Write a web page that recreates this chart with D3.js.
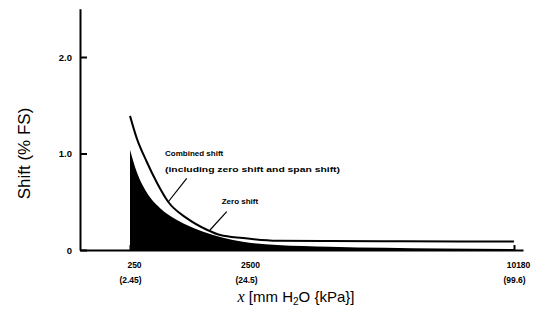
<!DOCTYPE html>
<html>
<head>
<meta charset="utf-8">
<script src="https://cdn.jsdelivr.net/npm/d3@7"></script>
<style>
  body { margin: 0; background: #fff; }
  svg { display: block; }
  text { font-family: "Liberation Sans", Arial, Helvetica, sans-serif; fill: #000; }
  .tick text { font-size: 8.5px; font-weight: bold; }
  .y-axis .tick text { font-size: 9.5px; }
  .note { font-size: 8px; font-weight: bold; }
</style>
</head>
<body>
<div id="chart"></div>
<script>
// x in mm H2O, shift in % FS
const combinedX = [250, 380, 570, 770, 990, 1350, 1740, 2000, 2440, 3390, 4900, 7000, 10180];
const combinedY = [1.39, 1.16, 0.92, 0.70, 0.50, 0.33, 0.21, 0.155, 0.124, 0.096, 0.092, 0.09, 0.088];

const zeroX = [250, 380, 570, 830, 1160, 1670, 2440, 3390, 4900, 8060, 10180];
const zeroY = [1.04, 0.81, 0.60, 0.435, 0.31, 0.19, 0.086, 0.052, 0.034, 0.016, 0.01];

const xTicks = [250, 2500, 10180];
const xTickKpa = ["2.45", "24.5", "99.6"];
const yTicks = [0, 1, 2];

const notes = [
    { text: "Combined shift", x: 929, y: 1.005 },
    { text: "(including zero shift and span shift)", x: 929, y: 0.84, len: 175 },
    { text: "Zero shift", x: 2029, y: 0.508 }
];
const pointers = [
    { x1: 1350, y1: 0.743, x2: 993, y2: 0.50 },
    { x1: 2126, y1: 0.397, x2: 1802, y2: 0.207 }
];

const width = 544, height = 319;

const svg = d3.select("#chart")
    .append("svg")
    .attr("width", width)
    .attr("height", height);

// the drawing is schematic: x axis is stretched piecewise
const xScale = d3.scaleLinear()
    .domain([0, 250, 2500, 10180, 10500])
    .range([80, 130, 246, 514, 523]);

const yScale = d3.scaleLinear()
    .domain([0, 2.5])
    .range([250, 8.75]);

const combined = combinedX.map((x, i) => ({ x: x, y: combinedY[i] }));
const zero = zeroX.map((x, i) => ({ x: x, y: zeroY[i] }));

// zero shift area
svg.append("path")
    .datum(zero)
    .attr("fill", "#000")
    .attr("d", d3.area()
        .x(d => xScale(d.x))
        .y0(yScale(0))
        .y1(d => yScale(d.y))
        .curve(d3.curveMonotoneX));

// combined shift line
svg.append("path")
    .datum(combined)
    .attr("fill", "none")
    .attr("stroke", "#000")
    .attr("stroke-width", 2)
    .attr("d", d3.line()
        .x(d => xScale(d.x))
        .y(d => yScale(d.y))
        .curve(d3.curveMonotoneX));

// axes
const xAxis = svg.append("g")
    .attr("transform", `translate(0,${yScale(0)})`)
    .call(d3.axisBottom(xScale)
        .tickValues(xTicks)
        .tickSizeInner(-5)
        .tickSizeOuter(0)
        .tickPadding(12));

xAxis.selectAll(".tick text")
    .attr("dx", 4)
    .each(function (d, i) {
        const t = d3.select(this);
        t.text(null);
        t.append("tspan").attr("x", 0).text(d);
        t.append("tspan").attr("x", 0).attr("dy", "1.8em").text(`(${xTickKpa[i]})`);
    });

const yAxis = svg.append("g")
    .attr("class", "y-axis")
    .attr("transform", `translate(${xScale(0)},0)`)
    .call(d3.axisLeft(yScale)
        .tickValues(yTicks)
        .tickSizeInner(-7)
        .tickSizeOuter(0)
        .tickPadding(8)
        .tickFormat(d => d === 0 ? "0" : d3.format(".1f")(d)));

svg.selectAll(".domain, .tick line").attr("stroke", "#000").attr("stroke-width", 2);
yAxis.selectAll(".tick text").attr("dy", "0.36em");

// axis titles
svg.append("text")
    .attr("transform", `translate(30,${yScale(1)}) rotate(-90)`)
    .attr("text-anchor", "middle")
    .style("font-size", "17px")
    .text("Shift (% FS)");

const xt = svg.append("text")
    .attr("x", 296)
    .attr("y", 302)
    .attr("text-anchor", "middle")
    .style("font-size", "15px");
xt.append("tspan").style("font-family", "'Liberation Serif', 'DejaVu Serif', serif")
    .style("font-style", "italic").style("font-size", "16px").text("x");
xt.append("tspan").text(" [mm H");
xt.append("tspan").attr("dy", 3).style("font-size", "10px").text("2");
xt.append("tspan").attr("dy", -3).text("O {kPa}]");

// annotations
svg.selectAll(".note")
    .data(notes)
    .enter()
    .append("text")
    .attr("class", "note")
    .attr("x", d => xScale(d.x))
    .attr("y", d => yScale(d.y))
    .attr("dy", "0.35em")
    .attr("textLength", d => d.len || null)
    .attr("lengthAdjust", "spacingAndGlyphs")
    .text(d => d.text);

svg.selectAll(".pointer")
    .data(pointers)
    .enter()
    .append("line")
    .attr("class", "pointer")
    .attr("x1", d => xScale(d.x1))
    .attr("y1", d => yScale(d.y1))
    .attr("x2", d => xScale(d.x2))
    .attr("y2", d => yScale(d.y2))
    .attr("stroke", "#000")
    .attr("stroke-width", 1.2);
</script>
</body>
</html>
